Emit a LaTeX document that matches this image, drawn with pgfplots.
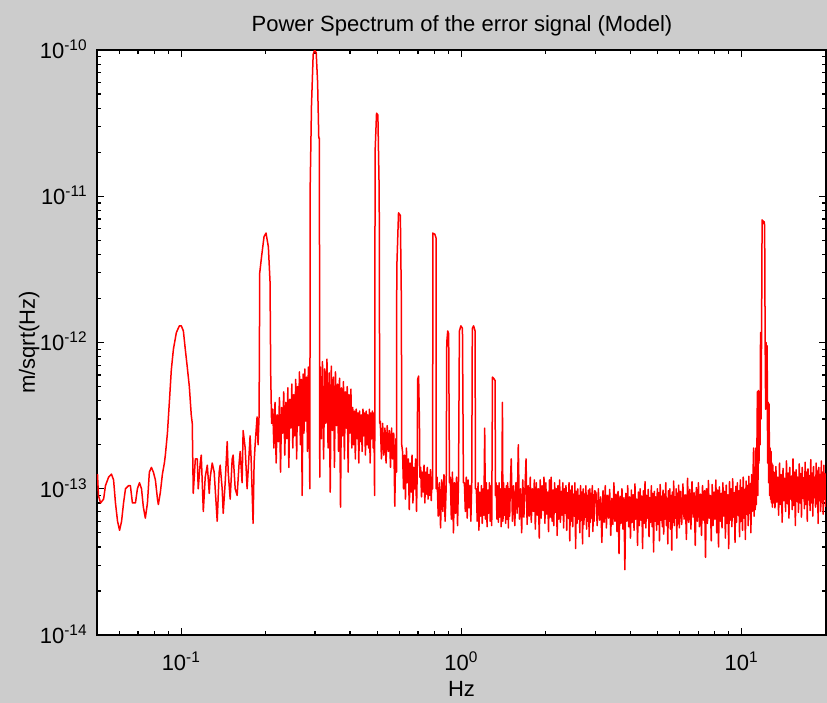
\documentclass[border=0pt]{standalone}
\usepackage{fontspec}
\setmainfont{Liberation Sans}
\usepackage{pgfplots}
\pgfplotsset{compat=1.18}
\definecolor{figbg}{RGB}{204,204,204}
\begin{document}
\begin{tikzpicture}
\fill[figbg] (-48.5pt,-34pt) rectangle (365pt,317.5pt);
\begin{axis}[
  at={(0pt,0pt)}, anchor=south west,
  scale only axis, width=364.5pt, height=292.5pt,
  xmode=log, ymode=log,
  xmin=0.05, xmax=20, ymin=1e-14, ymax=1e-10,
  axis background/.style={fill=white},
  axis line style={line width=0.7pt},
  every tick/.style={black, line width=0.6pt},
  tick align=inside, tick pos=both,
  major tick length=3.5pt, minor tick length=2pt,
  xtick={0.1,1,10},
  xticklabels={10\textsuperscript{-1},10\textsuperscript{0},10\textsuperscript{1}},
  minor xtick={0.06,0.07,0.08,0.09,0.2,0.3,0.4,0.5,0.6,0.7,0.8,0.9,2,3,4,5,6,7,8,9,20},
  ytick={1e-14,1e-13,1e-12,1e-11,1e-10},
  yticklabels={10\textsuperscript{-14},10\textsuperscript{-13},10\textsuperscript{-12},10\textsuperscript{-11},10\textsuperscript{-10}},
  minor ytick={2e-14,3e-14,4e-14,5e-14,6e-14,7e-14,8e-14,9e-14,2e-13,3e-13,4e-13,5e-13,6e-13,7e-13,8e-13,9e-13,2e-12,3e-12,4e-12,5e-12,6e-12,7e-12,8e-12,9e-12,2e-11,3e-11,4e-11,5e-11,6e-11,7e-11,8e-11,9e-11},
  tick label style={font=\fontsize{11}{13}\selectfont},
  xticklabel style={anchor=base, inner sep=0pt, yshift=-17.5pt},
  yticklabel style={anchor=base east, inner sep=0pt, xshift=-4.5pt, yshift=-4.2pt},
]
\addplot[red, line width=0.75pt, line join=round, no markers] table {
f v
0.0502 1.26e-13
0.0506 9.0e-14
0.0515 8.0e-14
0.0528 8.5e-14
0.0536 1.05e-13
0.0550 1.2e-13
0.0563 1.26e-13
0.0573 1.15e-13
0.0582 8.0e-14
0.0592 6.0e-14
0.0602 5.2e-14
0.0612 6.0e-14
0.0622 8.0e-14
0.0632 1.0e-13
0.0648 1.05e-13
0.0658 1.05e-13
0.0669 8.0e-14
0.0686 8.0e-14
0.0697 1.0e-13
0.0709 1.1e-13
0.0721 1.0e-13
0.0732 7.5e-14
0.0744 6.3e-14
0.0757 8.0e-14
0.0769 1.3e-13
0.0782 1.4e-13
0.0795 1.3e-13
0.0808 1.15e-13
0.0822 8.5e-14
0.0828 7.8e-14
0.0842 9.5e-14
0.0856 1.26e-13
0.0870 1.5e-13
0.0877 1.7e-13
0.0892 2.4e-13
0.0907 4.0e-13
0.0921 6.5e-13
0.0937 9.0e-13
0.0960 1.17e-12
0.0984 1.3e-12
0.1000 1.3e-12
0.1017 1.2e-12
0.1033 9.0e-13
0.1050 6.8e-13
0.1068 5.0e-13
0.1085 3.2e-13
0.1094 2.8e-13
0.1103 9.3e-14
0.1122 1.6e-13
0.1140 1.6e-13
0.1149 1.0e-13
0.1168 1.5e-13
0.1178 1.7e-13
0.1198 7.0e-14
0.1217 1.2e-13
0.1238 1.45e-13
0.1258 9.3e-14
0.1268 1.2e-13
0.1289 1.5e-13
0.1310 1.3e-13
0.1321 1.0e-13
0.1343 6.0e-14
0.1365 1.3e-13
0.1376 1.45e-13
0.1399 1.0e-13
0.1411 6.8e-14
0.1434 1.1e-13
0.1458 2.1e-13
0.1470 1.3e-13
0.1494 8.5e-14
0.1519 1.6e-13
0.1531 1.7e-13
0.1557 1.0e-13
0.1582 9.0e-14
0.1608 1.5e-13
0.1622 1.8e-13
0.1648 1.1e-13
0.1662 2.5e-13
0.1690 1.9e-13
0.1717 1.0e-13
0.1731 1.3e-13
0.1760 2.3e-13
0.1775 1.6e-13
0.1804 5.8e-14
0.1819 1.5e-13
0.1834 2.0e-13
0.1864 3.1e-13
0.1879 2.0e-13
0.1895 3.2e-13
0.1905 3.0e-12
0.1938 4.0e-12
0.1974 5.3e-12
0.2006 5.6e-12
0.2045 4.5e-12
0.2073 2.6e-12
0.2085 6.0e-13
0.2100 2.8e-13
0.212 3.5e-13
0.214 1.9e-13
0.216 3.9e-13
0.218 1.5e-13
0.220 3.2e-13
0.222 2.1e-13
0.224 4.2e-13
0.226 1.3e-13
0.228 3.6e-13
0.230 2.4e-13
0.232 4.6e-13
0.234 1.7e-13
0.236 3.9e-13
0.238 2.2e-13
0.240 4.9e-13
0.242 1.4e-13
0.244 4.1e-13
0.246 2.6e-13
0.248 5.2e-13
0.250 1.9e-13
0.252 4.4e-13
0.254 2.3e-13
0.256 5.6e-13
0.258 1.6e-13
0.260 5.0e-13
0.262 2.7e-13
0.264 6.3e-13
0.266 2.0e-13
0.268 5.6e-13
0.270 9.0e-14
0.272 6.1e-13
0.274 2.4e-13
0.276 6.6e-13
0.278 2.9e-13
0.280 5.8e-13
0.282 1.8e-13
0.284 6.8e-13
0.286 2.6e-13
0.2875 1.0e-13
0.2885 1.23e-11
0.2915 4.2e-11
0.2955 9.3e-11
0.2990 1.0e-10
0.3030 9.6e-11
0.3065 6.0e-11
0.3095 2.5e-11
0.3110 2.5e-11
0.3120 1.2e-13
0.3135 6.8e-13
0.316 2.2e-13
0.319 7.4e-13
0.322 1.6e-13
0.325 6.6e-13
0.328 2.8e-13
0.331 7.7e-13
0.334 1.9e-13
0.337 6.2e-13
0.340 9.5e-14
0.343 6.9e-13
0.346 2.5e-13
0.349 5.8e-13
0.352 1.4e-13
0.355 6.3e-13
0.358 2.7e-13
0.361 5.2e-13
0.364 1.8e-13
0.367 5.7e-13
0.370 7.5e-14
0.373 4.9e-13
0.376 2.3e-13
0.379 5.4e-13
0.382 1.6e-13
0.385 4.6e-13
0.388 2.6e-13
0.391 5.0e-13
0.394 1.3e-13
0.397 4.4e-13
0.400 2.4e-13
0.403 4.8e-13
0.406 1.9e-13
0.409 3.6e-13
0.412 2.0e-13
0.415 3.4e-13
0.418 1.6e-13
0.421 3.5e-13
0.424 2.2e-13
0.427 3.3e-13
0.430 1.5e-13
0.433 3.4e-13
0.436 2.1e-13
0.439 3.2e-13
0.442 1.8e-13
0.445 3.5e-13
0.448 2.3e-13
0.451 3.3e-13
0.454 1.7e-13
0.457 3.4e-13
0.460 2.0e-13
0.463 3.2e-13
0.466 1.9e-13
0.469 3.5e-13
0.472 1.5e-13
0.475 3.3e-13
0.478 2.2e-13
0.481 3.4e-13
0.484 1.9e-13
0.487 3.3e-13
0.4895 9.0e-14
0.4905 3.0e-13
0.4915 2.0e-11
0.4975 3.7e-11
0.5030 3.6e-11
0.5085 1.07e-11
0.5105 2.8e-13
0.513 2.9e-13
0.518 1.6e-13
0.523 2.8e-13
0.528 1.7e-13
0.533 2.6e-13
0.538 1.5e-13
0.543 2.7e-13
0.548 1.8e-13
0.553 2.5e-13
0.558 1.4e-13
0.563 2.6e-13
0.568 1.6e-13
0.573 2.4e-13
0.578 7.6e-14
0.583 2.2e-13
0.5865 1.3e-13
0.5875 3.2e-12
0.5960 7.7e-12
0.6050 7.4e-12
0.6100 2.0e-12
0.6120 2.0e-13
0.616 1.8e-13
0.621 1.0e-13
0.626 1.7e-13
0.631 8.5e-14
0.636 1.9e-13
0.641 1.1e-13
0.646 1.6e-13
0.651 7.2e-14
0.656 1.5e-13
0.661 9.5e-14
0.666 1.7e-13
0.671 8.0e-14
0.676 1.4e-13
0.681 1.0e-13
0.686 1.6e-13
0.691 7.0e-14
0.695 1.3e-13
0.6975 5.6e-13
0.7030 5.9e-13
0.7080 2.8e-13
0.7100 1.2e-13
0.715 1.4e-13
0.720 8.8e-14
0.725 1.3e-13
0.730 9.5e-14
0.735 1.45e-13
0.740 8.0e-14
0.745 1.3e-13
0.750 9.2e-14
0.755 1.4e-13
0.760 8.5e-14
0.765 1.25e-13
0.770 9.0e-14
0.775 1.35e-13
0.780 8.3e-14
0.785 1.2e-13
0.7895 1.0e-13
0.7900 5.6e-12
0.8030 5.5e-12
0.8110 5.2e-12
0.8125 1.0e-13
0.818 1.2e-13
0.826 6.5e-14
0.834 1.1e-13
0.842 5.4e-14
0.850 1.15e-13
0.858 7.0e-14
0.866 1.25e-13
0.874 6.0e-14
0.882 1.05e-13
0.886 1.0e-12
0.893 1.2e-12
0.900 1.15e-12
0.906 1.1e-13
0.912 1.2e-13
0.920 6.2e-14
0.928 1.3e-13
0.936 5.0e-14
0.944 1.1e-13
0.952 6.8e-14
0.960 1.2e-13
0.968 5.6e-14
0.976 1.15e-13
0.983 1.2e-12
0.995 1.3e-12
1.008 1.25e-12
1.016 1.1e-13
1.024 1.1e-13
1.032 7.0e-14
1.040 1.2e-13
1.048 6.3e-14
1.056 1.15e-13
1.064 7.4e-14
1.072 1.05e-13
1.080 6.0e-14
1.088 1.1e-13
1.093 1.25e-12
1.105 1.3e-12
1.118 1.2e-12
1.122 1.0e-13
1.130 1.0e-13
1.138 6.0e-14
1.146 1.1e-13
1.154 5.2e-14
1.162 9.5e-14
1.170 6.5e-14
1.178 1.05e-13
1.186 5.8e-14
1.194 1.0e-13
1.202 6.6e-14
1.210 2.6e-13
1.218 6.2e-14
1.226 1.1e-13
1.234 5.5e-14
1.242 9.8e-14
1.250 6.8e-14
1.258 1.1e-13
1.266 6.0e-14
1.274 1.05e-13
1.282 5.6e-14
1.290 5.8e-13
1.302 5.7e-13
1.318 5.5e-13
1.322 9.0e-14
1.330 1.1e-13
1.338 6.2e-14
1.346 1.05e-13
1.354 5.9e-14
1.362 1.1e-13
1.370 6.4e-14
1.378 1.0e-13
1.386 5.5e-14
1.394 1.05e-13
1.400 3.9e-13
1.406 6.0e-14
1.414 1.1e-13
1.422 6.6e-14
1.430 1.0e-13
1.438 5.8e-14
1.446 1.05e-13
1.454 6.2e-14
1.462 1.1e-13
1.470 5.4e-14
1.478 1.0e-13
1.486 6.5e-14
1.494 1.05e-13
1.505 1.6e-13
1.520 6.0e-14
1.535 1.05e-13
1.550 5.6e-14
1.565 1.1e-13
1.580 6.8e-14
1.595 2.0e-13
1.610 6.2e-14
1.625 1.0e-13
1.640 5.0e-14
1.655 1.15e-13
1.670 6.4e-14
1.685 1.0e-13
1.700 1.6e-13
1.715 5.7e-14
1.730 1.05e-13
1.745 6.5e-14
1.760 1.2e-13
1.775 5.9e-14
1.790 1.0e-13
1.805 7.0e-14
1.820 1.15e-13
1.835 5.3e-14
1.850 1.1e-13
1.865 6.6e-14
1.880 1.0e-13
1.895 4.6e-14
1.910 1.15e-13
1.925 6.3e-14
1.940 1.05e-13
1.955 7.1e-14
1.970 1.2e-13
1.985 5.8e-14
2.000 1.1e-13
2.015 6.7e-14
2.030 9.5e-14
2.045 5.1e-14
2.060 1.15e-13
2.075 6.4e-14
2.090 1.2e-13
2.105 6.0e-14
2.120 9.8e-14
2.135 5.6e-14
2.150 1.1e-13
2.165 6.9e-14
2.180 1.0e-13
2.195 4.8e-14
2.210 1.05e-13
2.225 6.2e-14
2.240 1.15e-13
2.255 5.9e-14
2.270 9.6e-14
2.285 6.6e-14
2.300 1.1e-13
2.315 5.4e-14
2.330 1.0e-13
2.345 6.8e-14
2.360 1.05e-13
2.375 5.2e-14
2.390 9.4e-14
2.405 6.3e-14
2.420 1.1e-13
2.435 4.4e-14
2.450 9.8e-14
2.465 6.0e-14
2.480 1.05e-13
2.495 5.5e-14
2.510 9.2e-14
2.525 6.5e-14
2.540 1.1e-13
2.555 3.9e-14
2.570 9.6e-14
2.585 5.8e-14
2.600 1.0e-13
2.615 6.2e-14
2.630 9.0e-14
2.645 5.0e-14
2.660 1.05e-13
2.675 6.1e-14
2.690 9.5e-14
2.705 4.2e-14
2.720 1.0e-13
2.735 5.7e-14
2.750 9.2e-14
2.765 6.4e-14
2.780 1.05e-13
2.795 5.3e-14
2.810 9.0e-14
2.825 6.0e-14
2.840 9.8e-14
2.855 4.7e-14
2.870 1.0e-13
2.885 5.9e-14
2.900 9.3e-14
2.915 6.3e-14
2.930 1.05e-13
2.945 5.1e-14
2.960 9.1e-14
2.975 6.0e-14
2.990 9.7e-14
3.02 9.4e-14
3.05 5.6e-14
3.08 1.0e-13
3.11 6.1e-14
3.14 8.8e-14
3.17 4.3e-14
3.20 9.7e-14
3.23 5.9e-14
3.26 1.05e-13
3.29 5.4e-14
3.32 9.0e-14
3.35 6.3e-14
3.38 9.9e-14
3.41 4.8e-14
3.44 8.6e-14
3.47 5.7e-14
3.50 1.1e-13
3.53 6.0e-14
3.56 9.2e-14
3.59 5.1e-14
3.62 9.6e-14
3.65 3.6e-14
3.68 8.9e-14
3.71 5.8e-14
3.74 1.0e-13
3.77 5.3e-14
3.80 8.7e-14
3.83 2.8e-14
3.86 9.3e-14
3.89 6.0e-14
3.92 1.05e-13
3.95 5.5e-14
3.98 8.8e-14
4.01 4.6e-14
4.04 9.8e-14
4.07 5.9e-14
4.10 9.1e-14
4.13 5.2e-14
4.16 1.08e-13
4.19 6.2e-14
4.22 8.5e-14
4.25 4.1e-14
4.28 9.5e-14
4.31 5.6e-14
4.34 1.0e-13
4.37 6.1e-14
4.40 8.9e-14
4.43 3.9e-14
4.46 9.7e-14
4.49 5.8e-14
4.52 1.12e-13
4.55 5.4e-14
4.58 9.0e-14
4.61 6.3e-14
4.64 9.9e-14
4.67 4.7e-14
4.70 8.7e-14
4.73 5.9e-14
4.76 1.05e-13
4.79 5.5e-14
4.82 9.3e-14
4.85 3.7e-14
4.88 9.6e-14
4.91 6.0e-14
4.94 8.8e-14
4.97 5.2e-14
5.00 1.0e-13
5.03 5.7e-14
5.06 9.4e-14
5.09 4.4e-14
5.12 1.07e-13
5.15 6.1e-14
5.18 8.9e-14
5.21 5.5e-14
5.24 9.8e-14
5.27 4.9e-14
5.30 9.2e-14
5.33 6.2e-14
5.36 1.1e-13
5.39 5.6e-14
5.42 8.6e-14
5.45 4.2e-14
5.48 9.7e-14
5.51 6.0e-14
5.54 1.0e-13
5.57 5.3e-14
5.60 9.0e-14
5.63 3.8e-14
5.66 9.5e-14
5.69 5.9e-14
5.72 1.13e-13
5.75 5.6e-14
5.78 8.8e-14
5.81 6.3e-14
5.84 1.0e-13
5.87 4.6e-14
5.90 9.3e-14
5.93 5.8e-14
5.96 1.06e-13
5.99 5.4e-14
6.05 9.6e-14
6.11 5.7e-14
6.17 1.08e-13
6.23 6.2e-14
6.29 9.1e-14
6.35 4.5e-14
6.41 1.18e-13
6.47 5.9e-14
6.53 9.9e-14
6.59 5.3e-14
6.65 1.12e-13
6.71 6.4e-14
6.77 9.4e-14
6.83 4.1e-14
6.89 1.02e-13
6.95 6.0e-14
7.01 1.1e-13
7.07 5.5e-14
7.13 9.2e-14
7.19 4.8e-14
7.25 1.05e-13
7.31 6.1e-14
7.37 9.7e-14
7.43 3.4e-14
7.49 1.0e-13
7.55 5.8e-14
7.61 1.14e-13
7.67 6.3e-14
7.73 9.0e-14
7.79 4.4e-14
7.85 1.07e-13
7.91 5.6e-14
7.97 9.5e-14
8.03 6.2e-14
8.09 1.15e-13
8.15 5.0e-14
8.21 9.8e-14
8.27 4.0e-14
8.33 1.03e-13
8.39 6.0e-14
8.45 9.3e-14
8.51 5.4e-14
8.57 1.1e-13
8.63 6.5e-14
8.69 9.6e-14
8.75 4.6e-14
8.81 1.06e-13
8.87 5.8e-14
8.93 9.1e-14
8.99 3.9e-14
9.05 1.12e-13
9.11 6.1e-14
9.17 1.0e-13
9.23 5.5e-14
9.29 1.17e-13
9.35 6.4e-14
9.41 9.4e-14
9.47 4.3e-14
9.53 1.04e-13
9.59 5.9e-14
9.65 1.1e-13
9.71 6.6e-14
9.77 9.7e-14
9.83 4.7e-14
9.89 1.15e-13
9.95 6.0e-14
10.01 1.02e-13
10.07 5.2e-14
10.13 1.2e-13
10.19 6.3e-14
10.25 9.9e-14
10.31 4.5e-14
10.37 1.13e-13
10.43 6.7e-14
10.49 1.05e-13
10.55 5.6e-14
10.61 1.22e-13
10.67 6.8e-14
10.73 1.08e-13
10.79 5.0e-14
10.85 1.25e-13
10.91 7.0e-14
10.97 1.15e-13
11.03 1.9e-13
11.08 6.5e-14
11.13 1.4e-13
11.18 7.2e-14
11.23 1.9e-13
11.28 7.8e-14
11.33 1.7e-13
11.38 4.6e-13
11.43 9.0e-14
11.48 4.7e-13
11.53 1.5e-13
11.58 4.6e-13
11.63 2.0e-13
11.68 1.17e-12
11.73 3.0e-13
11.78 1.15e-12
11.83 6.9e-12
11.88 6.6e-12
11.93 6.8e-12
11.98 6.5e-12
12.03 6.7e-12
12.08 6.3e-12
12.13 1.0e-12
12.18 3.5e-13
12.23 1.0e-12
12.28 4.5e-13
12.33 9.5e-13
12.38 1.5e-13
12.43 3.9e-13
12.48 1.1e-13
12.53 3.8e-13
12.58 9.0e-14
12.63 1.9e-13
12.68 8.5e-14
12.73 1.8e-13
12.78 8.0e-14
12.83 1.5e-13
12.88 7.5e-14
12.93 1.45e-13
12.98 8.0e-14
13.05 1.3e-13
13.15 7.4e-14
13.25 1.42e-13
13.35 8.1e-14
13.45 1.2e-13
13.55 6.6e-14
13.65 1.5e-13
13.75 7.8e-14
13.85 1.25e-13
13.95 5.9e-14
14.05 1.38e-13
14.15 8.3e-14
14.25 1.18e-13
14.35 7.0e-14
14.45 1.55e-13
14.55 7.9e-14
14.65 1.28e-13
14.75 6.3e-14
14.85 1.4e-13
14.95 8.5e-14
15.05 1.22e-13
15.15 7.2e-14
15.25 1.6e-13
15.35 7.7e-14
15.45 1.3e-13
15.55 5.6e-14
15.65 1.35e-13
15.75 8.2e-14
15.85 1.2e-13
15.95 6.9e-14
16.05 1.48e-13
16.15 8.0e-14
16.25 1.27e-13
16.35 6.4e-14
16.45 1.4e-13
16.55 8.6e-14
16.65 1.19e-13
16.75 7.3e-14
16.85 1.52e-13
16.95 7.8e-14
17.05 1.3e-13
17.15 6.0e-14
17.25 1.37e-13
17.35 8.4e-14
17.45 1.23e-13
17.55 7.1e-14
17.65 1.58e-13
17.75 8.0e-14
17.85 1.28e-13
17.95 6.5e-14
18.05 1.42e-13
18.15 8.7e-14
18.25 1.2e-13
18.35 7.5e-14
18.45 1.5e-13
18.55 7.9e-14
18.65 1.32e-13
18.75 5.8e-14
18.85 1.4e-13
18.95 8.3e-14
19.05 1.25e-13
19.15 7.0e-14
19.25 1.55e-13
19.35 8.1e-14
19.45 1.3e-13
19.55 6.7e-14
19.65 1.45e-13
19.75 8.5e-14
19.85 1.27e-13
19.95 7.6e-14
20.00 1.2e-13
};
\end{axis}
\node[anchor=base, font=\fontsize{11}{13}\selectfont] at (182.5pt,301.5pt) {Power Spectrum of the error signal (Model)};
\node[anchor=base, font=\fontsize{11}{13}\selectfont] at (182.25pt,-31pt) {Hz};
\node[anchor=base, rotate=90, font=\fontsize{11}{13}\selectfont] at (-31pt,146.25pt) {m/sqrt(Hz)};
\pgfresetboundingbox
\path[use as bounding box] (-48.5pt,-34pt) rectangle (365pt,317.5pt);
\end{tikzpicture}
\end{document}
